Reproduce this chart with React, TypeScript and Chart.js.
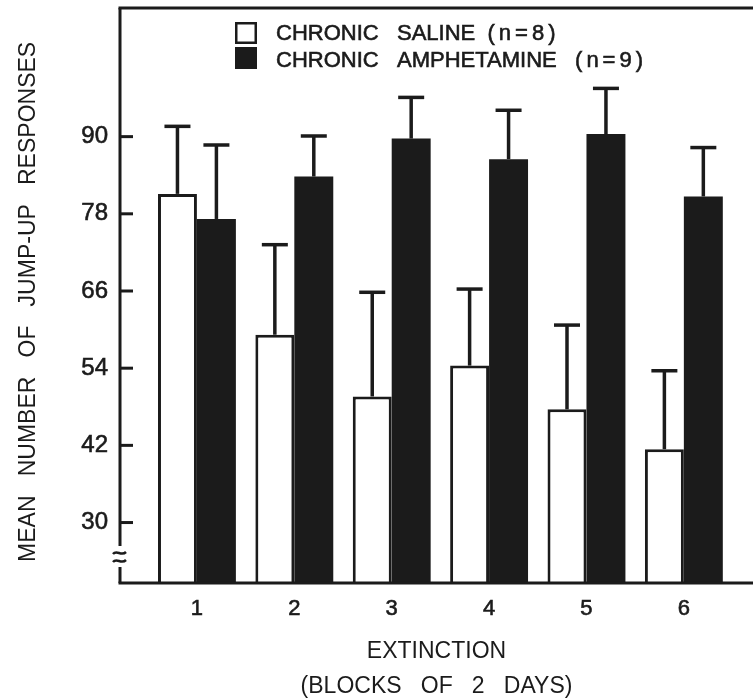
import { useEffect, useRef } from "react";
import { Chart, registerables } from "chart.js";

Chart.register(...registerables);

// ---- data ----
const blocks = [1, 2, 3, 4, 5, 6];
const blockLabels = ["1", "2", "3", "4", "5", "6"];
const salineMeans = [81.1, 59.2, 49.6, 54.4, 47.6, 41.4];
const salineErr = [10.5, 14.0, 16.2, 11.9, 13.1, 12.2];
const amphMeans = [77.2, 83.8, 89.7, 86.5, 90.4, 80.7];
const amphErr = [11.5, 6.3, 6.4, 7.6, 7.1, 7.6];
const yTicks = [30, 42, 54, 66, 78, 90];
const seriesLabels = ["CHRONIC   SALINE  (n=8)", "CHRONIC   AMPHETAMINE   (n=9)"];
const yTitle = "MEAN   NUMBER   OF   JUMP-UP   RESPONSES  ";
const xTitle = ["EXTINCTION", "(BLOCKS   OF   2   DAYS)"];

const INK = "#1b1b1b";
const FONT = "'Liberation Sans', Arial, Helvetica, sans-serif";

const errorBarPlugin = {
  id: "errorBars",
  afterDatasetsDraw(chart: any) {
    const ctx = chart.ctx;
    const yScale = chart.scales.y;
    ctx.save();
    ctx.strokeStyle = INK;
    ctx.lineWidth = 3.5;
    ctx.lineCap = "butt";
    chart.data.datasets.forEach((ds: any, di: number) => {
      const meta = chart.getDatasetMeta(di);
      meta.data.forEach((el: any, i: number) => {
        const v = ds.data[i].y;
        const top = yScale.getPixelForValue(v + ds.errors[i]);
        ctx.beginPath();
        ctx.moveTo(el.x, el.y);
        ctx.lineTo(el.x, top);
        ctx.stroke();
        ctx.beginPath();
        ctx.moveTo(el.x - 13, top);
        ctx.lineTo(el.x + 13, top);
        ctx.stroke();
      });
    });
    ctx.restore();
  },
};

const framePlugin = {
  id: "frame",
  afterDraw(chart: any) {
    const ctx = chart.ctx;
    const { left, right, top, bottom } = chart.chartArea;
    const yScale = chart.scales.y;
    ctx.save();
    ctx.strokeStyle = INK;
    ctx.lineWidth = 3;
    ctx.beginPath();
    ctx.moveTo(left - 1.5, top);
    ctx.lineTo(right, top);
    ctx.stroke();
    ctx.beginPath();
    ctx.moveTo(left - 1.5, bottom);
    ctx.lineTo(right, bottom);
    ctx.stroke();
    const breakTop = bottom - 37;
    const breakBot = bottom - 16;
    ctx.beginPath();
    ctx.moveTo(left, top);
    ctx.lineTo(left, breakTop);
    ctx.moveTo(left, breakBot);
    ctx.lineTo(left, bottom);
    ctx.stroke();
    ctx.lineWidth = 2.5;
    [breakTop + 7, breakTop + 15].forEach((yc) => {
      ctx.beginPath();
      ctx.moveTo(left - 7, yc + 1);
      ctx.bezierCurveTo(left - 3, yc - 4, left + 1, yc + 4, left + 6, yc - 1);
      ctx.stroke();
    });
    ctx.lineWidth = 3;
    yTicks.forEach((v) => {
      const y = yScale.getPixelForValue(v);
      ctx.beginPath();
      ctx.moveTo(left, y);
      ctx.lineTo(left + 13, y);
      ctx.stroke();
    });
    ctx.restore();
  },
};

const legendPlugin = {
  id: "innerLegend",
  afterDraw(chart: any) {
    const ctx = chart.ctx;
    const { left, top } = chart.chartArea;
    ctx.save();
    ctx.font = `22px ${FONT}`;
    ctx.textBaseline = "middle";
    const rows = [
      { cy: top + 25, boxTop: top + 14 },
      { cy: top + 52, boxTop: top + 39 },
    ];
    chart.data.datasets.forEach((ds: any, i: number) => {
      const { cy, boxTop } = rows[i];
      const bx = left + 115;
      if (i === 0) {
        ctx.fillStyle = "#fff";
        ctx.fillRect(bx + 1, boxTop + 1, 20, 20);
        ctx.strokeStyle = INK;
        ctx.lineWidth = 2.5;
        ctx.strokeRect(bx + 1.25, boxTop + 1.25, 19.5, 19.5);
      } else {
        ctx.fillStyle = INK;
        ctx.fillRect(bx, boxTop, 22, 22);
      }
      ctx.fillStyle = INK;
      ctx.strokeStyle = INK;
      ctx.lineWidth = 0.6;
      const label: string = ds.label;
      const k = label.indexOf("(");
      const main = k >= 0 ? label.slice(0, k) : label;
      const paren = k >= 0 ? label.slice(k) : "";
      const tx = bx + 41;
      ctx.fillText(main, tx, cy + 1);
      ctx.strokeText(main, tx, cy + 1);
      const w = ctx.measureText(main).width;
      (ctx as any).letterSpacing = "4px";
      ctx.fillText(paren, tx + w, cy + 1);
      ctx.strokeText(paren, tx + w, cy + 1);
      (ctx as any).letterSpacing = "0px";
    });
    ctx.restore();
  },
};

export default function App() {
  const ref = useRef<HTMLCanvasElement>(null);

  useEffect(() => {
    document.body.style.margin = "0";
    document.body.style.overflow = "hidden";
    const chart = new Chart(ref.current as HTMLCanvasElement, {
      type: "bar",
      data: {
        datasets: [
          {
            label: seriesLabels[0],
            data: blocks.map((b, i) => ({ x: b, y: salineMeans[i] })),
            backgroundColor: "#ffffff",
            borderColor: INK,
            borderWidth: 3,
            borderSkipped: "start",
            categoryPercentage: 0.8,
            barPercentage: 1,
            errors: salineErr,
          } as any,
          {
            label: seriesLabels[1],
            data: blocks.map((b, i) => ({ x: b, y: amphMeans[i] })),
            backgroundColor: INK,
            borderWidth: 0,
            categoryPercentage: 0.8,
            barPercentage: 1,
            errors: amphErr,
          } as any,
        ],
      },
      options: {
        responsive: false,
        animation: false,
        events: [],
        layout: { padding: { top: 8, left: 0, right: 0, bottom: 0 } },
        plugins: {
          legend: { display: false },
          tooltip: { enabled: false },
        },
        scales: {
          x: {
            type: "linear",
            min: 0.21,
            max: 6.71,
            offset: false,
            grid: { display: false, drawTicks: false, offset: false },
            border: { display: false },
            afterBuildTicks: (s: any) => {
              s.ticks = blocks.map((v) => ({ value: v }));
            },
            ticks: {
              autoSkip: false,
              maxRotation: 0,
              padding: 13,
              color: INK,
              textStrokeColor: INK,
              textStrokeWidth: 0.6,
              font: { family: FONT, size: 22 },
              callback: (_v: any, i: number) => blockLabels[i],
            },
            title: {
              display: true,
              text: xTitle,
              color: INK,
              font: { family: FONT, size: 23, lineHeight: "35px" },
              padding: { top: 0, bottom: -4.5 },
            },
            afterFit: (s: any) => {
              s.height = 117;
              s.paddingLeft = 0;
              s.paddingRight = 0;
            },
          } as any,
          y: {
            type: "linear",
            min: 20.6,
            max: 110,
            grid: { display: false, drawTicks: false },
            border: { display: false },
            afterBuildTicks: (s: any) => {
              s.ticks = yTicks.map((v) => ({ value: v }));
            },
            ticks: {
              padding: 12,
              color: INK,
              textStrokeColor: INK,
              textStrokeWidth: 0.6,
              font: { family: FONT, size: 24 },
            },
            title: {
              display: true,
              text: yTitle,
              color: INK,
              font: { family: FONT, size: 23 },
              padding: { top: 15, bottom: 0 },
            },
            afterFit: (s: any) => {
              s.width = 120;
              s.paddingTop = 0;
              s.paddingBottom = 0;
            },
          } as any,
        },
      },
      plugins: [errorBarPlugin, framePlugin, legendPlugin],
    });
    return () => chart.destroy();
  }, []);

  return (
    <div style={{ width: 753, height: 700 }}>
      <canvas ref={ref} width={753} height={700} style={{ display: "block" }} />
    </div>
  );
}
